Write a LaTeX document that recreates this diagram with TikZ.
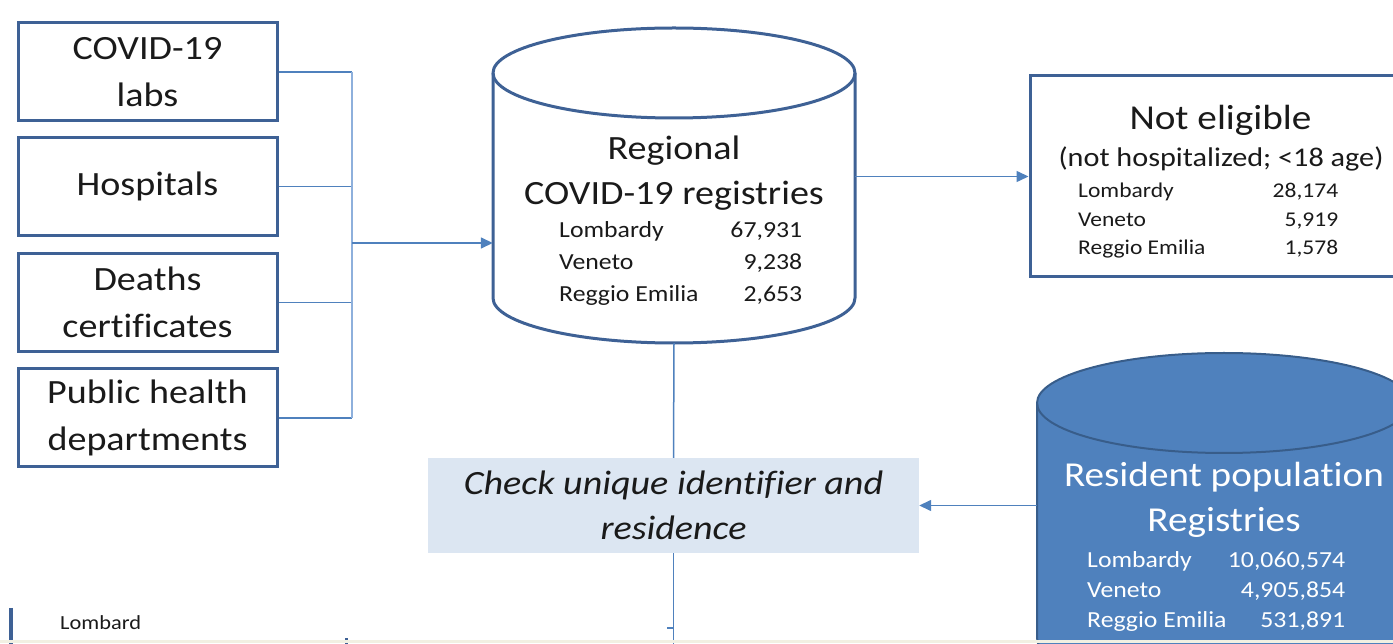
\documentclass[tikz,border=0pt]{standalone}
\usepackage{fontspec}
\setmainfont{Carlito}[FakeStretch=1.12, Ligatures=NoCommon]
\usetikzlibrary{arrows.meta}

\definecolor{boxline}{HTML}{3E6195}
\definecolor{linkline}{HTML}{4F81BD}
\definecolor{buslink}{HTML}{8EB0DC}
\definecolor{checkfill}{HTML}{DCE6F2}
\definecolor{popfill}{HTML}{4F81BD}
\definecolor{popline}{HTML}{385D8A}
\definecolor{inktext}{HTML}{1A1A1A}
\definecolor{pagestrip}{HTML}{F2F0E2}

\tikzset{
  srcbox/.style={draw=boxline, line width=3pt, minimum width=259pt, minimum height=98pt,
    align=center, text=inktext, font=\fontsize{34}{47}\selectfont},
  link/.style={draw=linkline, line width=1.5pt},
  linkarrow/.style={link, -{Triangle[length=12pt,width=11pt]}},
  bigtext/.style={anchor=base, inner sep=0pt, text=inktext, font=\fontsize{34}{45}\selectfont},
  rows/.style={anchor=base west, inner sep=0pt, text=inktext}
}

\begin{document}
\begin{tikzpicture}[x=1pt, y=1pt]
  \useasboundingbox (0,0) rectangle (1393,643);
  \clip (0,0) rectangle (1393,643);

  % sources
  \node[srcbox] (labs) at (147.5,571) {COVID-19\\labs};
  \node[srcbox] (hosp) at (147.5,456.5) {Hospitals};
  \node[srcbox] (death) at (147.5,340.5) {Deaths\\certificates};
  \node[srcbox] (pubh) at (147.5,225) {Public health\\departments};

  % regional registries (cylinder)
  \node[minimum width=362pt, minimum height=315pt, inner sep=0pt] (regreg) at (674,457.5) {};
  \draw[boxline, line width=3pt, fill=white]
    (493,570) -- (493,345) arc[start angle=180, end angle=360, x radius=181, y radius=45]
    -- (855,570) arc[start angle=0, end angle=180, x radius=181, y radius=45] -- cycle;
  \draw[boxline, line width=3pt]
    (493,570) arc[start angle=180, end angle=360, x radius=181, y radius=45];
  \node[bigtext] (regtitle) at (674,483) {Regional};
  \node[bigtext] (regsub) at (674,438) {COVID-19 registries};
  \node[rows, font=\fontsize{23}{32}\selectfont] (regrows) at (559,405)
    {\begin{tabular*}{243pt}[t]{@{}l@{\extracolsep{\fill}}r@{}}
     Lombardy & 67,931\\ Veneto & 9,238\\ Reggio Emilia & 2,653
     \end{tabular*}};

  % not eligible
  \node[draw=boxline, line width=3pt, minimum width=390pt, minimum height=201pt] (noteligible) at (1225,466.5) {};
  \node[bigtext, font=\fontsize{35}{45}\selectfont] (neltitle) at (1220.5,513) {Not eligible};
  \node[bigtext, font=\fontsize{27}{32}\selectfont] (nelsub) at (1221,476) {(not hospitalized; <18 age)};
  \node[rows, font=\fontsize{21}{28.5}\selectfont] (nelrows) at (1078,445)
    {\begin{tabular*}{260pt}[t]{@{}l@{\extracolsep{\fill}}r@{}}
     Lombardy & 28,174\\ Veneto & 5,919\\ Reggio Emilia & 1,578
     \end{tabular*}};

  % check step
  \node[fill=checkfill, minimum width=491pt, minimum height=95pt, align=center, text=inktext,
    font=\itshape\fontsize{34}{45}\selectfont] (check) at (673.5,137.5)
    {Check unique identifier and\\residence};

  % resident population registries (cylinder)
  \node[minimum width=374pt, minimum height=335pt, inner sep=0pt] (respop) at (1224,122.5) {};
  \draw[popline, line width=2pt, fill=popfill]
    (1037,240) -- (1037,5) arc[start angle=180, end angle=360, x radius=187, y radius=50]
    -- (1411,240) arc[start angle=0, end angle=180, x radius=187, y radius=50] -- cycle;
  \draw[popline, line width=2pt]
    (1037,240) arc[start angle=180, end angle=360, x radius=187, y radius=50];
  \node[bigtext, text=white, font=\fontsize{35}{45}\selectfont] (poptitle) at (1224,156) {Resident population};
  \node[bigtext, text=white, font=\fontsize{35}{45}\selectfont] (popsub) at (1224,111) {Registries};
  \node[rows, text=white, font=\fontsize{23}{30}\selectfont] (poprows) at (1087,75)
    {\begin{tabular*}{258pt}[t]{@{}l@{\extracolsep{\fill}}r@{}}
     Lombardy & 10,060,574\\ Veneto & 4,905,854\\ Reggio Emilia & 531,891
     \end{tabular*}};

  % connectors
  \coordinate (bus) at (352,400);
  \draw[link] (labs.east) -- (labs.east -| bus);
  \draw[link] (hosp.east) -- (hosp.east -| bus);
  \draw[link] (death.east) -- (death.east -| bus);
  \draw[link] (pubh.east) -- (pubh.east -| bus);
  \draw[buslink, line width=1.2pt] (labs.east -| bus) -- (pubh.east -| bus);
  \draw[linkarrow] (bus) -- (bus -| regreg.west);
  \draw[linkarrow] (regreg.east |- noteligible.west) -- (noteligible.west);
  \draw[link] (regreg.south) -- (check.north);
  \draw[linkarrow] (respop.west |- check.east) -- (check.east);
  \coordinate (cut) at (673.5,-5);
  \draw[link] (check.south) -- (cut);
  \draw[link] (667,15) -- (673.5,15);

  % next row, cut off
  \draw[boxline, line width=4pt] (11,35) -- (11,-5);
  \node[rows, text=inktext, font=\fontsize{20}{24}\selectfont] (nextrow) at (60,13) {Lombard};
  \draw[boxline, line width=3pt] (346,5) -- (346,-5);
  \fill[pagestrip] (0,0) rectangle (1393,3);
\end{tikzpicture}
\end{document}
